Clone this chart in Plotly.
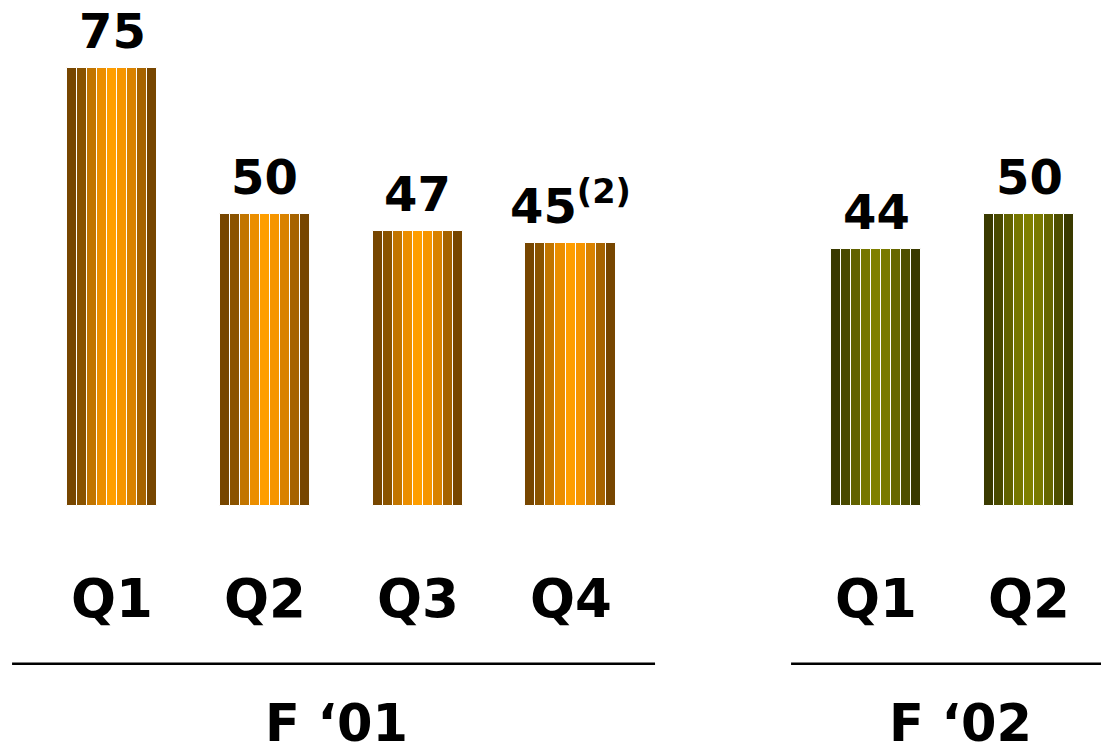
import plotly.graph_objects as go

# Data
quarters = ["Q1", "Q2", "Q3", "Q4", "Q1", "Q2"]
values = [75, 50, 47, 45, 44, 50]
value_labels = ["75", "50", "47", "45<sup>(2)</sup>", "44", "50"]
years = ["F \u201801", "F \u201802"]
year_of_bar = [0, 0, 0, 0, 1, 1]
positions = [0, 1, 2, 3, 5, 6]

# Styling
orange_stripes = ["#774600", "#8a5300", "#c27500", "#eb8e00", "#ff9e00",
                  "#f69500", "#d98200", "#a66300", "#774600"]
olive_stripes = ["#3a3a00", "#4a4a00", "#626200", "#777700", "#808000",
                 "#7a7a00", "#676700", "#4f4f00", "#3a3a00"]
n_stripes = len(orange_stripes)
bar_w = 0.59
stripe_w = bar_w / n_stripes

fig = go.Figure()
for i in range(n_stripes):
    off = -bar_w / 2 + stripe_w * (i + 0.5)
    cols = [orange_stripes[i] if year_of_bar[k] == 0 else olive_stripes[i]
            for k in range(len(values))]
    fig.add_trace(go.Bar(
        x=[p + off for p in positions], y=values, width=stripe_w,
        marker=dict(color=cols, line=dict(color="white", width=1)),
        showlegend=False, hoverinfo="skip"))

font_fam = "DejaVu Sans"
for p, v, lab in zip(positions, values, value_labels):
    fig.add_annotation(x=p, y=v, text=f"<b>{lab}</b>", showarrow=False,
                       yanchor="bottom", yshift=7,
                       font=dict(family=font_fam, size=48, color="black"))
for p, q in zip(positions, quarters):
    fig.add_annotation(x=p, y=-15.8, text=f"<b>{q}</b>", showarrow=False,
                       font=dict(family=font_fam, size=53, color="black"))

# year groups
group_lines = [(-0.654, 3.553), (4.443, 6.5)]
group_label_x = [1.47, 5.55]
for (x0, x1), lx, yl in zip(group_lines, group_label_x, years):
    fig.add_shape(type="line", x0=x0, x1=x1, y0=-27.05, y1=-27.05,
                  line=dict(color="black", width=2.5))
    fig.add_annotation(x=lx, y=-37.3, text=f"<b>{yl}</b>", showarrow=False,
                       font=dict(family=font_fam, size=51, color="black"))

fig.update_layout(
    width=1101, height=750, margin=dict(l=0, r=0, t=0, b=0),
    paper_bgcolor="white", plot_bgcolor="white", barmode="overlay",
    bargap=0,
    xaxis=dict(range=[-0.733, 6.471], visible=False, fixedrange=True),
    yaxis=dict(range=[-41.8, 86.6], visible=False, fixedrange=True),
)
fig.write_html("out.html")
